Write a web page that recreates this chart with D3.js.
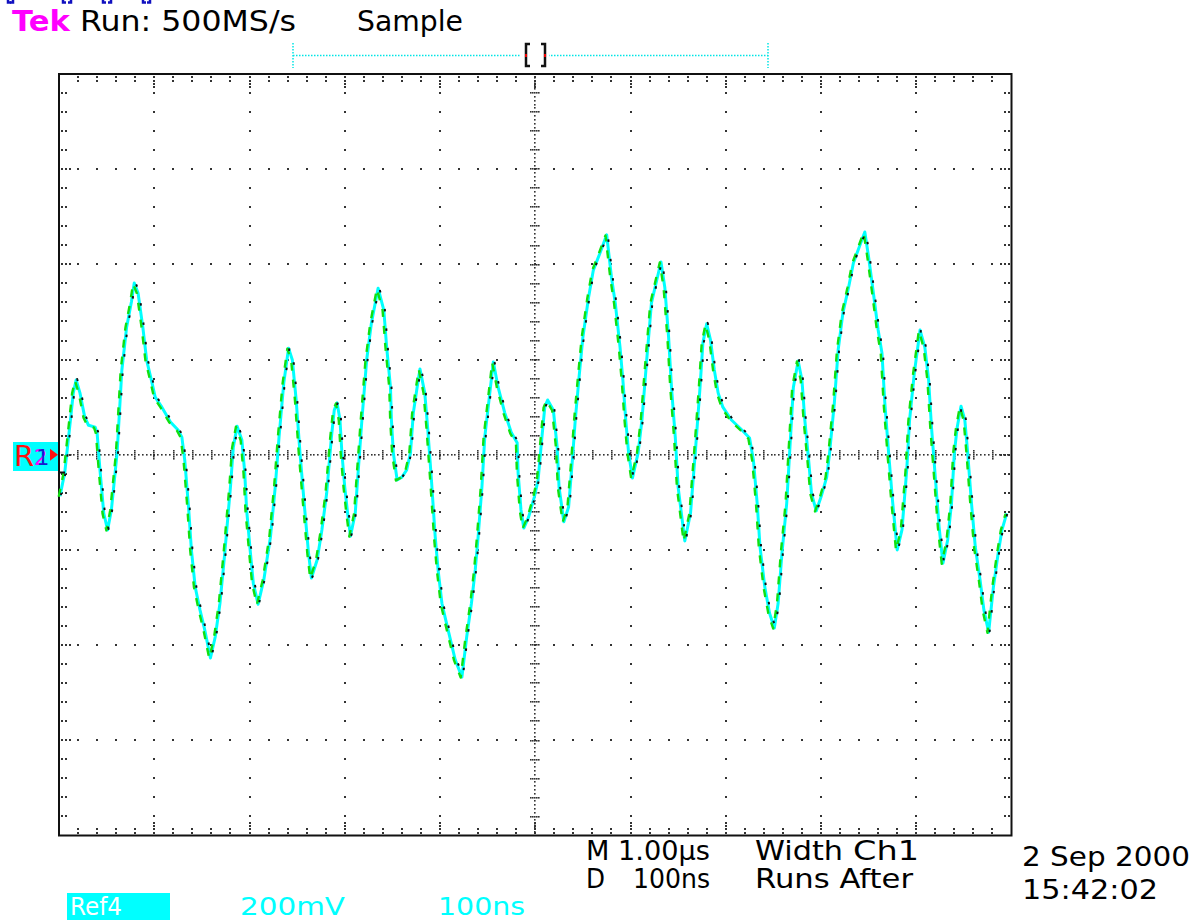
<!DOCTYPE html>
<html>
<head>
<meta charset="utf-8">
<script src="https://cdn.jsdelivr.net/npm/d3@7"></script>
<style>
  html, body { margin: 0; padding: 0; background: #fff; }
  svg { display: block; font-family: "DejaVu Sans", "Liberation Sans", sans-serif; }
</style>
</head>
<body>
<svg id="scope" width="1196" height="920"></svg>
<script>
// Ref4 record: time from the left edge of the screen (ns) and amplitude (mV)
const timeNs = [
  1,6,12,15,18,22,27,31,38,40, 43,47,51,55,61,66,71,76,79,83,
  88,92,97,101,108,117,125,129,132,136, 139,143,148,153,159,164,169,174,180,183,
  187,192,195,197,201,204,209,215,222,227, 231,236,241,245,249,253,258,262,265,271,
  276,281,286,289,292,295,297,300,303,306, 311,314,318,323,328,335,341,344,348,349,
  351,355,360,365,369,372,376,379,384,387, 391,395,398,402,406,411,416,423,428,433,
  437,440,444,447,453,456,461,468,475,481, 482,485,488,493,499,503,507,510,513,519,
  523,525,530,535,539,542,546,550,556,561, 568,575,580,584,589,592,595,598,602,608,
  612,617,622,632,636,640,643,647,650,657, 663,668,673,676,680,684,688,692,697,706,
  717,725,729,733,736,741,746,751,755,759, 764,768,771,776,780,783,787,790,795,800,
  806,809,814,818,823,829,834,839,846,850, 855,860,864,867,871,875,880,885,890,893,
  898,904,909,913,916,920,924,928,933,937, 940,943,947,951,954,958,962,967,971,976,
  981,986,990,995
];
const ref4mV = [
  -87,-38,73,130,157,130,79,62,58,46, -32,-123,-158,-116,4,178,268,321,361,340,
  268,199,157,121,100,69,52,37,-11,-110, -200,-278,-326,-368,-427,-383,-312,-207,-68,16,
  60,31,-38,-116,-207,-270,-314,-263,-173,-68, 37,151,224,199,115,4,-116,-207,-259,-221,
  -158,-81,37,94,109,73,4,-68,-123,-171, -123,-38,73,199,277,350,304,226,142,73,
  4,-53,-47,-32,4,88,142,180,130,58, -53,-173,-242,-312,-347,-389,-431,-467,-383,-312,
  -242,-173,-68,37,142,195,142,88,46,25, -38,-116,-154,-131,-89,-53,37,100,115,94,
  16,-68,-141,-110,-11,73,163,247,331,388, 424,462,373,319,226,157,73,4,-49,4,
  73,199,319,405,352,247,142,37,-68,-181, -123,4,142,235,275,241,178,130,100,73,
  52,35,-11,-102,-194,-278,-333,-364,-312,-207, -102,37,142,197,157,73,-11,-81,-118,-89,
  -47,4,109,220,298,352,403,430,468,415, 340,262,214,109,4,-95,-200,-158,-32,73,
  172,262,226,157,58,-47,-152,-228,-179,-102, 4,58,102,73,4,-102,-194,-263,-326,-373,
  -278,-207,-158,-123
];

// Screen graticule
const nsPerDiv = 100;
const mVPerDiv = 200;
const divsX = 10;
const divsY = 8;

// Readouts
const headerRun = "Run: 500MS/s";
const headerMode = "Sample";
const readoutLine1 = ["M 1.00µs", "Width", "Ch1"];
const readoutLine2 = ["D", "100ns", "Runs After"];
const dateLines = ["2 Sep 2000", "15:42:02"];
const refLabels = ["Ref4", "200mV", "100ns"];

const svg = d3.select("#scope");
const L = 59, R = 1011.5, T = 74, B = 835.5;

const xDiv = d3.scaleLinear().domain([0, divsX]).range([L, R]);
const yDiv = d3.scaleLinear().domain([-divsY / 2, divsY / 2]).range([B, T]);
const x = d3.scaleLinear().domain([0, divsX * nsPerDiv]).range([L, R]);
const y = d3.scaleLinear().domain([-divsY / 2 * mVPerDiv, divsY / 2 * mVPerDiv]).range([B, T]);

svg.append("rect").attr("width", 1196).attr("height", 920).attr("fill", "#fff");

const grid = svg.append("g").attr("fill", "#333");
const dot = (cx, cy, s = 2) =>
  grid.append("rect").attr("x", Math.round(cx - s / 2)).attr("y", Math.round(cy - s / 2))
      .attr("width", s).attr("height", s);

const eps = 1e-6;
const minorX = d3.range(1, divsX * 5).map(i => i / 5);
const minorY = d3.range(-divsY * 5 / 2 + 1, divsY * 5 / 2).map(i => i / 5);
const isMajor = v => Math.abs(v - Math.round(v)) < eps;

// dotted major divisions
for (let i = 1; i < divsX; i++) {
  if (i === divsX / 2) continue;
  minorY.forEach(m => dot(xDiv(i), yDiv(m)));
}
for (let k = -divsY / 2 + 1; k < divsY / 2; k++) {
  if (k === 0) continue;
  minorX.forEach(m => dot(xDiv(m), yDiv(k)));
}

// centre crosshair, finely dotted with minor ticks
d3.range(1, divsX * 25).forEach(i => dot(xDiv(i / 25), yDiv(0), 1.6));
d3.range(-divsY * 25 / 2 + 1, divsY * 25 / 2).forEach(i => dot(xDiv(divsX / 2), yDiv(i / 25), 1.6));
minorX.forEach(m => { [-4, -2, 2, 4].forEach(o => dot(xDiv(m), yDiv(0) + o, 1.6)); });
minorY.forEach(m => { [-4, -2, 2, 4].forEach(o => dot(xDiv(divsX / 2) + o, yDiv(m), 1.6)); });

// border ticks
minorX.forEach(m => {
  const offs = isMajor(m) ? [3, 6.5, 10, 13] : [3, 7];
  offs.forEach(o => { dot(xDiv(m), T + o); dot(xDiv(m), B - o); });
});
minorY.forEach(m => {
  const offs = isMajor(m) ? [3, 7, 11] : [3, 7];
  offs.forEach(o => { dot(L + o, yDiv(m)); dot(R - o, yDiv(m)); });
});

// frame
svg.append("rect").attr("x", L).attr("y", T).attr("width", R - L).attr("height", B - T)
  .attr("fill", "none").attr("stroke", "#111").attr("stroke-width", 2);

// waveform: three overlaid reference traces
const pts = timeNs.map((t, i) => ({ t, v: ref4mV[i] }));
const line = d3.line().x(d => x(d.t)).y(d => y(d.v));
const traces = svg.append("g").attr("fill", "none").attr("stroke-linejoin", "round");
traces.append("path").attr("d", line(pts)).attr("stroke", "#00ffff").attr("stroke-width", 3);
traces.append("path").attr("d", line(pts)).attr("stroke", "#10e010").attr("stroke-width", 2.4)
  .attr("transform", "translate(-1.2,0.5)").attr("stroke-dasharray", "8,9");
traces.append("path").attr("d", line(pts)).attr("stroke", "#111").attr("stroke-width", 2)
  .attr("transform", "translate(1,-1)").attr("stroke-dasharray", "2.5,17");

// header
const hdr = svg.append("g").attr("font-size", 29);
hdr.append("text").attr("x", 12).attr("y", 31).attr("fill", "#ff00ff").attr("font-weight", "bold").text("Tek")
  .attr("textLength", 58).attr("lengthAdjust", "spacingAndGlyphs");
hdr.append("text").attr("x", 80).attr("y", 31).attr("fill", "#000").text(headerRun)
  .attr("textLength", 216).attr("lengthAdjust", "spacingAndGlyphs");
hdr.append("text").attr("x", 357).attr("y", 31).attr("fill", "#000").text(headerMode)
  .attr("textLength", 106).attr("lengthAdjust", "spacingAndGlyphs");

// clipped bracket glyphs along the top edge
const topMarks = svg.append("g").attr("stroke", "#1010c0").attr("stroke-width", 2.5).attr("fill", "none");
[[8, 13], [63, 71], [103, 111], [143, 150]].forEach(([a, b]) => {
  topMarks.append("path").attr("d", `M${a},0 V2.5 H${a + 3}`);
  topMarks.append("path").attr("d", `M${b},0 V2.5 H${b - 3}`);
});

// trigger position bar
const trig = svg.append("g");
trig.append("line").attr("x1", 293).attr("x2", 768).attr("y1", 55.5).attr("y2", 55.5)
  .attr("stroke", "#00e5e5").attr("stroke-width", 1.5).attr("stroke-dasharray", "1.5,1.5");
[293, 768].forEach(px => trig.append("line").attr("x1", px).attr("x2", px).attr("y1", 43).attr("y2", 68)
  .attr("stroke", "#00e5e5").attr("stroke-width", 1.5).attr("stroke-dasharray", "1.5,1.5"));
trig.append("rect").attr("x", 521).attr("y", 45).attr("width", 28).attr("height", 20).attr("fill", "#fff");
trig.append("path").attr("d", "M530,44 H526 V66 H530 M541,44 H545 V66 H541")
  .attr("fill", "none").attr("stroke", "#111").attr("stroke-width", 2.5);
[526, 545].forEach(px => trig.append("rect").attr("x", px - 1).attr("y", 54).attr("width", 2).attr("height", 3).attr("fill", "#e00"));

// R1 ground marker
const mk = svg.append("g");
mk.append("rect").attr("x", 13).attr("y", 442).attr("width", 45).attr("height", 29).attr("fill", "#00ffff");
mk.append("text").attr("x", 14).attr("y", 466).attr("font-size", 29).attr("fill", "#ff1010").text("R");
mk.append("text").attr("x", 34).attr("y", 465).attr("font-size", 21).attr("fill", "#ff00ff").text("2");
mk.append("text").attr("x", 36).attr("y", 465).attr("font-size", 21).attr("fill", "#1020d0").text("1");
mk.append("path").attr("d", `M50,${yDiv(0) - 6} L58,${yDiv(0)} L50,${yDiv(0) + 6} Z`).attr("fill", "#ff1010");
svg.append("line").attr("x1", L).attr("x2", L + 6).attr("y1", 472.5).attr("y2", 472.5)
  .attr("stroke", "#111").attr("stroke-width", 2);

// acquisition readouts
const rd = svg.append("g").attr("font-size", 27).attr("fill", "#000");
const put = (g, txt, px, py, w) => g.append("text").attr("x", px).attr("y", py).text(txt)
  .attr("textLength", w).attr("lengthAdjust", "spacingAndGlyphs");
put(rd, readoutLine1[0], 586, 860, 124);
put(rd, readoutLine1[1], 755, 860, 88);
put(rd, readoutLine1[2], 853, 860, 66);
put(rd, readoutLine2[0], 586, 888, 19);
put(rd, readoutLine2[1], 633, 888, 77);
put(rd, readoutLine2[2], 755, 888, 158);
put(rd, dateLines[0], 1022, 866, 168);
put(rd, dateLines[1], 1022, 899, 136);

// reference channel readouts
const rf = svg.append("g").attr("font-size", 25);
rf.append("rect").attr("x", 67).attr("y", 893).attr("width", 103).attr("height", 27).attr("fill", "#00ffff");
put(rf, refLabels[0], 70, 915, 52).attr("fill", "#fff");
put(rf, refLabels[1], 240, 915, 105).attr("fill", "#00ffff");
put(rf, refLabels[2], 438, 915, 87).attr("fill", "#00ffff");
</script>
</body>
</html>
